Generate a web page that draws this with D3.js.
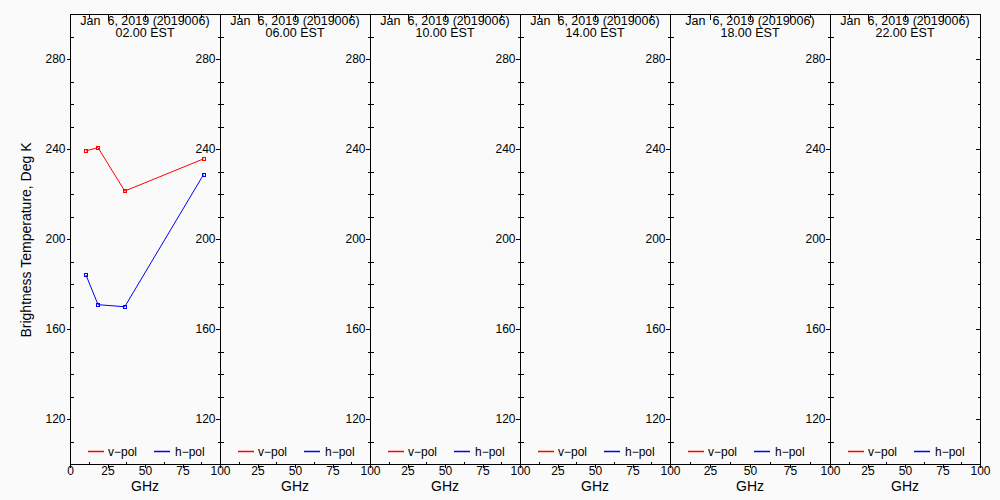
<!DOCTYPE html>
<html>
<head>
<meta charset="utf-8">
<script src="https://cdn.jsdelivr.net/npm/d3@7"></script>
<style>
  body { margin: 0; background: #fafafa; }
  svg { display: block; background: #fafafa; }
  text { font-family: "Liberation Sans", Arial, sans-serif; fill: #000; white-space: pre; }
</style>
</head>
<body>
<svg id="chart" width="1000" height="500"></svg>
<script>
// data
var times = ["02.00", "06.00", "10.00", "14.00", "18.00", "22.00"];
var dateLabel = "Jan  6, 2019 (2019006)";
var freqs = [10.65, 18.7, 36.5, 89.0];
var vpol = [239.2, 240.6, 221.3, 235.6];
var hpol = [184.0, 170.8, 169.9, 228.6];
var yMajor = [120, 160, 200, 240, 280];
var xMajor = [0, 25, 50, 75, 100];

// layout
var edges = [70, 220, 370, 520, 670, 830, 980];
var plotTop = 14, plotBottom = 464;

var svg = d3.select("#chart");

var y = d3.scaleLinear().domain([100, 300]).range([plotBottom, plotTop]);
var yMinor = d3.range(110, 300, 10).filter(function (v) { return yMajor.indexOf(v) < 0; });
var xMinor = [12.5, 37.5, 62.5, 87.5];

function clean(g) {
  g.select(".domain").remove();
  g.selectAll("line").attr("stroke", "#000").attr("shape-rendering", "crispEdges");
  g.selectAll("text").attr("font-size", 12).attr("font-family", "Liberation Sans").attr("fill", "#000");
}

times.forEach(function (t, i) {
  var x0 = edges[i], x1 = edges[i + 1];
  var x = d3.scaleLinear().domain([0, 100]).range([x0, x1]);
  var p = svg.append("g").attr("class", "panel");

  // left axis: major outward with labels, minor inward
  p.append("g").attr("transform", "translate(" + (x0 + 0.5) + ",0)")
    .call(d3.axisLeft(y).tickValues(yMajor).tickSize(4).tickPadding(1))
    .call(clean);
  p.append("g").attr("transform", "translate(" + (x0 + 0.5) + ",0)")
    .call(d3.axisRight(y).tickValues(yMinor).tickSize(3).tickFormat(""))
    .call(clean);

  // right axis: inward ticks
  p.append("g").attr("transform", "translate(" + (x1 + 0.5) + ",0)")
    .call(d3.axisLeft(y).tickValues(yMajor).tickSize(5).tickFormat(""))
    .call(clean);
  p.append("g").attr("transform", "translate(" + (x1 + 0.5) + ",0)")
    .call(d3.axisLeft(y).tickValues(yMinor).tickSize(3).tickFormat(""))
    .call(clean);

  // bottom axis
  var xLab = i === 0 ? xMajor : xMajor.slice(1);
  p.append("g").attr("transform", "translate(0," + (plotBottom + 0.5) + ")")
    .call(d3.axisBottom(x).tickValues(xLab).tickSize(3).tickPadding(-1))
    .call(clean);
  p.append("g").attr("transform", "translate(0," + (plotBottom + 0.5) + ")")
    .call(d3.axisTop(x).tickValues(xMinor).tickSize(3).tickFormat(""))
    .call(clean);

  // top axis
  p.append("g").attr("transform", "translate(0," + (plotTop + 0.5) + ")")
    .call(d3.axisBottom(x).tickValues([25, 50, 75]).tickSize(5).tickFormat(""))
    .call(clean);
  p.append("g").attr("transform", "translate(0," + (plotTop + 0.5) + ")")
    .call(d3.axisBottom(x).tickValues(xMinor).tickSize(3).tickFormat(""))
    .call(clean);

  // frame
  p.append("rect")
    .attr("x", x0 + 0.5).attr("y", plotTop + 0.5)
    .attr("width", x1 - x0).attr("height", plotBottom - plotTop)
    .attr("fill", "none").attr("stroke", "#000").attr("shape-rendering", "crispEdges");

  // title
  var cx = (x0 + x1) / 2;
  p.append("text").attr("x", cx).attr("y", 25).attr("text-anchor", "middle")
    .attr("font-size", 12.5).text(dateLabel);
  p.append("text").attr("x", cx).attr("y", 37).attr("text-anchor", "middle")
    .attr("font-size", 12.5).text(t + " EST");

  // x label
  p.append("text").attr("x", cx).attr("y", 491).attr("text-anchor", "middle")
    .attr("font-size", 14).text("GHz");

  // legend
  var ly = 451.5;
  [["v-pol", "#ff0000", 18, 38], ["h-pol", "#0000ff", 84, 105]].forEach(function (l) {
    p.append("line").attr("x1", x0 + l[2]).attr("x2", x0 + l[2] + 16)
      .attr("y1", ly).attr("y2", ly)
      .style("stroke", l[1]).style("stroke-width", "1.5px");
    p.append("text").attr("x", x0 + l[3]).attr("y", ly + 4.5).attr("font-size", 12).text(l[0].replace("-", "\u2212"));
  });

  // data only in the first panel
  if (i === 0) {
    [[vpol, "#ff0000"], [hpol, "#0000ff"]].forEach(function (s) {
      var pts = freqs.map(function (f, k) { return [x(f), y(s[0][k])]; });
      p.append("path")
        .attr("d", d3.line()(pts))
        .attr("fill", "none").attr("stroke", s[1]).attr("stroke-width", 1);
      p.selectAll(null).data(pts).enter().append("rect")
        .attr("x", function (d) { return Math.round(d[0]) - 1.5; })
        .attr("y", function (d) { return Math.round(d[1]) - 1.5; })
        .attr("width", 3).attr("height", 3)
        .attr("fill", "none").attr("stroke", s[1]).attr("stroke-width", 1);
    });
  }
});

// y label
svg.append("text")
  .attr("transform", "translate(31,240) rotate(-90)")
  .attr("text-anchor", "middle")
  .attr("font-size", 14)
  .text("Brightness Temperature, Deg K");
</script>
</body>
</html>
